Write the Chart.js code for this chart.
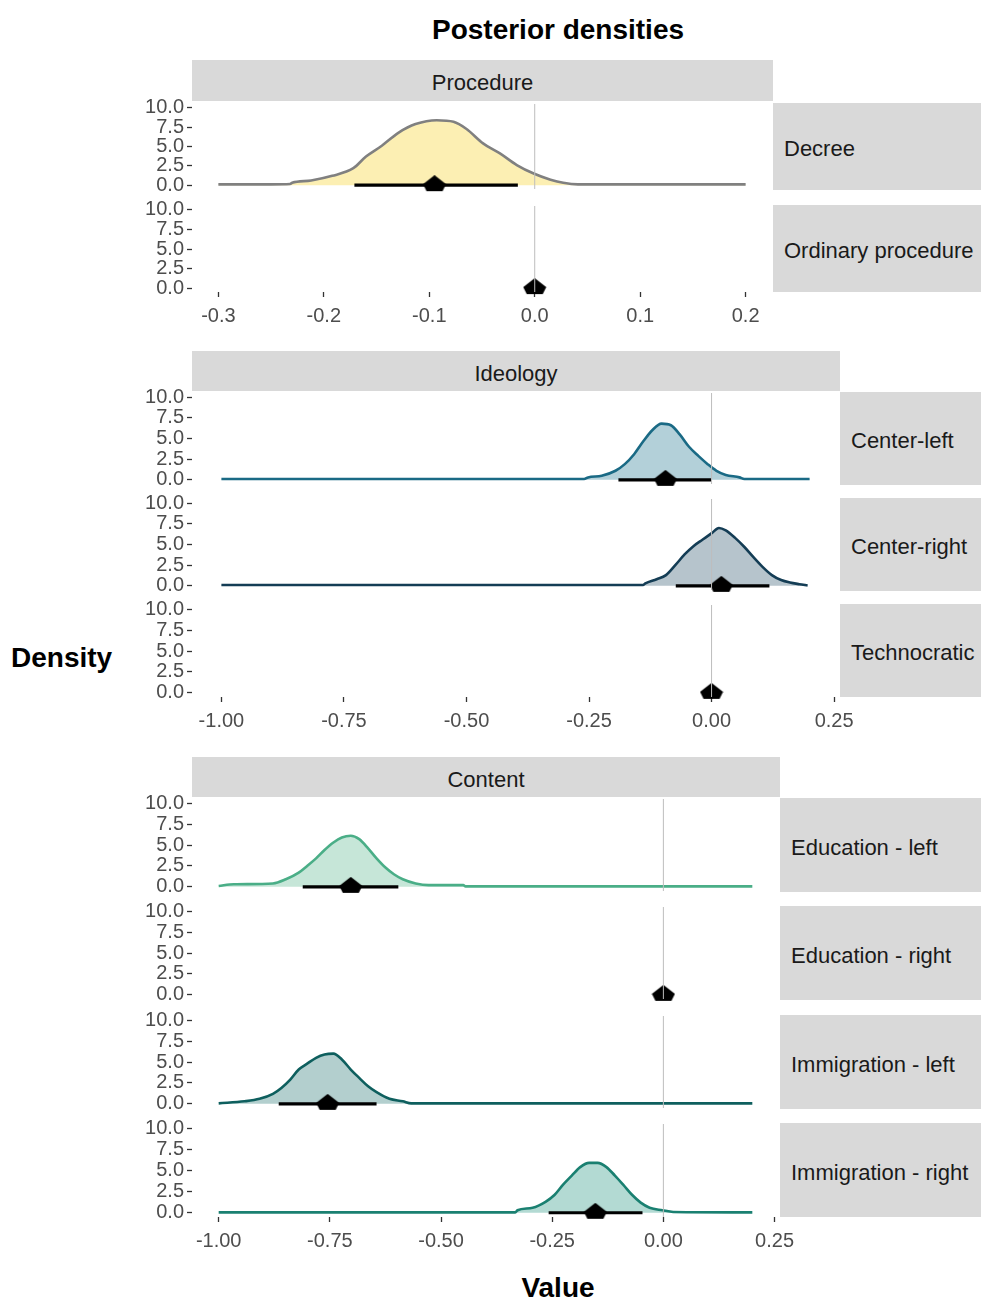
<!DOCTYPE html>
<html><head><meta charset="utf-8">
<script src="https://cdn.jsdelivr.net/npm/chart.js@4.4.1/dist/chart.umd.min.js"></script>
<style>
html,body{margin:0;padding:0;background:#fff;}
#page{position:relative;width:981px;height:1300px;overflow:hidden;font-family:"Liberation Sans",Arial,sans-serif;}
.txt{position:absolute;white-space:nowrap;color:#000;font-weight:bold;font-size:28px;line-height:32px;}
.strip{position:absolute;background:#D9D9D9;color:#1A1A1A;font-size:22px;display:flex;align-items:center;box-sizing:border-box;white-space:nowrap;padding-top:5px;}
.cw{position:absolute;}
</style></head><body><div id="page"></div>
<script>
// ---------------- DATA ----------------
const groupNames = ["Procedure", "Ideology", "Content"];
const procedureLabels = ["Decree", "Ordinary procedure"];
const ideologyLabels = ["Center-left", "Center-right", "Technocratic"];
const contentLabels = ["Education - left", "Education - right", "Immigration - left", "Immigration - right"];

const procTicks = [-0.3, -0.2, -0.1, 0.0, 0.1, 0.2];
const procTickLabels = ["-0.3", "-0.2", "-0.1", "0.0", "0.1", "0.2"];
const wideTicks = [-1.0, -0.75, -0.5, -0.25, 0.0, 0.25];
const wideTickLabels = ["-1.00", "-0.75", "-0.50", "-0.25", "0.00", "0.25"];
const densityTicks = [0, 2.5, 5, 7.5, 10];
const densityTickLabels = ["0.0", "2.5", "5.0", "7.5", "10.0"];
const procRange = [-0.3, 0.2];
const wideRange = [-1.0, 0.2];
const densityRange = [0, 10];
const refLineX = 0;

// density curves (value, density)
const decreeX = [-0.30, -0.25, -0.232, -0.23, -0.212, -0.192, -0.172, -0.160, -0.145, -0.129, -0.113, -0.093, -0.077, -0.065, -0.049, -0.033, -0.017, -0.001, 0.015, 0.027, 0.041, 0.10, 0.20];
const decreeY = [0.1, 0.1, 0.15, 0.3, 0.6, 1.2, 2.2, 3.7, 5.1, 6.8, 7.9, 8.4, 8.2, 7.3, 5.4, 4.1, 2.6, 1.5, 0.7, 0.3, 0.1, 0.1, 0.1];

const centerLeftX = [-1.00, -0.50, -0.26, -0.252, -0.224, -0.196, -0.177, -0.158, -0.140, -0.121, -0.102, -0.083, -0.065, -0.046, -0.027, -0.008, 0.010, 0.029, 0.057, 0.067, 0.20];
const centerLeftY = [0.1, 0.1, 0.1, 0.3, 0.5, 1.1, 1.9, 3.1, 4.6, 6.0, 6.8, 6.6, 5.5, 4.0, 2.9, 1.9, 1.1, 0.6, 0.3, 0.1, 0.1];

const centerRightX = [-1.00, -0.50, -0.14, -0.135, -0.112, -0.093, -0.074, -0.055, -0.037, -0.018, 0.001, 0.015, 0.029, 0.048, 0.067, 0.085, 0.104, 0.123, 0.142, 0.160, 0.179, 0.196];
const centerRightY = [0.1, 0.1, 0.1, 0.3, 0.8, 1.3, 2.5, 3.8, 4.8, 5.6, 6.4, 7.0, 6.7, 5.8, 4.7, 3.5, 2.3, 1.3, 0.7, 0.4, 0.2, 0.05];

const eduLeftX = [-1.00, -0.966, -0.878, -0.849, -0.820, -0.801, -0.781, -0.762, -0.742, -0.723, -0.703, -0.684, -0.664, -0.645, -0.625, -0.606, -0.586, -0.557, -0.528, -0.450, -0.445, 0.20];
const eduLeftY = [0.1, 0.3, 0.4, 0.9, 1.7, 2.5, 3.4, 4.4, 5.3, 5.9, 6.1, 5.7, 4.6, 3.4, 2.3, 1.5, 0.9, 0.4, 0.2, 0.2, 0.05, 0.05];

const immLeftX = [-1.00, -0.942, -0.908, -0.878, -0.859, -0.839, -0.820, -0.801, -0.781, -0.762, -0.742, -0.723, -0.703, -0.684, -0.664, -0.645, -0.616, -0.586, -0.567, 0.20];
const immLeftY = [0.05, 0.3, 0.6, 1.2, 1.9, 2.9, 4.1, 4.8, 5.5, 5.9, 6.0, 5.3, 4.1, 3.1, 2.1, 1.4, 0.6, 0.3, 0.05, 0.05];

const immRightX = [-1.00, -0.333, -0.328, -0.294, -0.265, -0.245, -0.226, -0.206, -0.187, -0.167, -0.148, -0.128, -0.109, -0.090, -0.070, -0.051, -0.031, -0.002, 0.022, 0.20];
const immRightY = [0.05, 0.05, 0.3, 0.6, 1.3, 2.1, 3.3, 4.4, 5.4, 5.9, 5.9, 5.4, 4.4, 3.3, 2.1, 1.2, 0.6, 0.3, 0.1, 0.05];

// credible intervals and medians
const procLow = [-0.171, 0.0], procHigh = [-0.016, 0.0], procMedian = [-0.095, 0.0];
const ideoLow = [-0.190, -0.073, 0.0], ideoHigh = [0.000, 0.118, 0.0], ideoMedian = [-0.094, 0.020, 0.0];
const contLow = [-0.811, 0.0, -0.865, -0.258], contHigh = [-0.596, 0.0, -0.645, -0.047], contMedian = [-0.703, 0.0, -0.755, -0.153];

// ---------------- STYLE / LAYOUT ----------------
const FONT = '"Liberation Sans", Arial, sans-serif';
const styles = {
  Decree: {line: '#808080', fill: '#FCEFB3'},
  'Center-left': {line: '#1A6A85', fill: '#B3D0D9'},
  'Center-right': {line: '#143D55', fill: '#B6C4CC'},
  'Education - left': {line: '#4AAE87', fill: '#C6E6D8'},
  'Immigration - left': {line: '#0E5F5E', fill: '#B3CFCE'},
  'Immigration - right': {line: '#1A8071', fill: '#B3DAD3'}
};
const curves = {
  Decree: [decreeX, decreeY],
  'Center-left': [centerLeftX, centerLeftY],
  'Center-right': [centerRightX, centerRightY],
  'Education - left': [eduLeftX, eduLeftY],
  'Immigration - left': [immLeftX, immLeftY],
  'Immigration - right': [immRightX, immRightY]
};
const groups = [
  {name: groupNames[0], labels: procedureLabels, low: procLow, high: procHigh, med: procMedian,
   ticks: procTicks, tickLabels: procTickLabels, range: procRange,
   left: 192, right: 772, stripTop: 60, stripBottom: 101, panels: [{top: 103, h: 87}, {top: 205, h: 87}]},
  {name: groupNames[1], labels: ideologyLabels, low: ideoLow, high: ideoHigh, med: ideoMedian,
   ticks: wideTicks, tickLabels: wideTickLabels, range: wideRange,
   left: 192, right: 839, stripTop: 351, stripBottom: 391, panels: [{top: 392, h: 93}, {top: 498, h: 93}, {top: 604, h: 93}]},
  {name: groupNames[2], labels: contentLabels, low: contLow, high: contHigh, med: contMedian,
   ticks: wideTicks, tickLabels: wideTickLabels, range: wideRange,
   left: 192, right: 779, stripTop: 757, stripBottom: 797, panels: [{top: 798, h: 94}, {top: 906, h: 94}, {top: 1015, h: 94}, {top: 1123, h: 94}]}
];

const page = document.getElementById('page');
function addText(cls, text, css) {
  const d = document.createElement('div');
  d.className = cls; d.textContent = text;
  Object.assign(d.style, css);
  page.appendChild(d);
  return d;
}
addText('txt', 'Posterior densities', {left: '0px', width: '1116px', textAlign: 'center', top: '14px'});
addText('txt', 'Density', {left: '11px', top: '642px'});
addText('txt', 'Value', {left: '0px', width: '1116px', textAlign: 'center', top: '1272px'});

// marker (median)
const marker = document.createElement('canvas');
marker.width = 24; marker.height = 20;
(function () {
  const c = marker.getContext('2d');
  c.fillStyle = '#000';
  c.beginPath();
  c.moveTo(12, 0); c.lineTo(23.5, 9); c.lineTo(20, 16); c.lineTo(4, 16); c.lineTo(0.5, 9);
  c.closePath(); c.fill();
})();

const YW = 72, PT = 14, PR = 40, PB = 14, XH = 44;
const yPad = 0.05 * (densityRange[1] - densityRange[0]);
const yMin = densityRange[0] - yPad, yMax = densityRange[1] + yPad;

groups.forEach(g => {
  const xPad = 0.05 * (g.range[1] - g.range[0]);
  const xMin = g.range[0] - xPad, xMax = g.range[1] + xPad;
  addText('strip', g.name, {left: g.left + 'px', top: g.stripTop + 'px',
    width: (g.right - g.left + 1) + 'px', height: (g.stripBottom - g.stripTop) + 'px', justifyContent: 'center'});
  g.panels.forEach((p, pi) => {
    const label = g.labels[pi];
    addText('strip', label, {left: (g.right + 1) + 'px', top: p.top + 'px', width: (981 - g.right - 1) + 'px',
      height: p.h + 'px', paddingLeft: '11px'});
    const showX = pi === g.panels.length - 1;
    const w = (g.right - g.left) + YW + PR;
    const h = p.h + PT + (showX ? XH : PB);
    const wrap = document.createElement('div');
    wrap.className = 'cw';
    wrap.style.left = (g.left - YW) + 'px';
    wrap.style.top = (p.top - PT) + 'px';
    wrap.style.width = w + 'px'; wrap.style.height = h + 'px';
    const cv = document.createElement('canvas');
    cv.width = w; cv.height = h; cv.style.width = w + 'px'; cv.style.height = h + 'px';
    wrap.appendChild(cv); page.appendChild(wrap);

    const datasets = [];
    datasets.push({type: 'line', label: 'zero', data: [{x: refLineX, y: yMin}, {x: refLineX, y: yMax}],
      borderColor: '#BDBDBD', borderWidth: 1, pointRadius: 0, order: 0, clip: false});
    datasets.push({type: 'line', label: 'median', showLine: false, data: [{x: g.med[pi], y: 0}],
      pointStyle: marker, pointRadius: 10, order: 1, clip: false});
    if (g.low[pi] !== g.high[pi]) {
      datasets.push({type: 'line', label: 'interval', data: [{x: g.low[pi], y: 0}, {x: g.high[pi], y: 0}],
        borderColor: '#000', borderWidth: 3.2, pointRadius: 0, order: 2, clip: false});
    }
    if (curves[label]) {
      const [xs, ys] = curves[label];
      datasets.push({type: 'line', label: label, data: xs.map((x, i) => ({x: x, y: ys[i]})),
        borderColor: styles[label].line, backgroundColor: styles[label].fill, fill: 'origin',
        borderWidth: 2.6, pointRadius: 0, cubicInterpolationMode: 'monotone', order: 3});
    }
    const tickFont = {family: FONT, size: 20};
    new Chart(cv, {
      type: 'line',
      data: {datasets: datasets},
      options: {
        responsive: false, animation: false, events: [],
        layout: {padding: {left: 0, top: PT, right: PR, bottom: showX ? 0 : PB}},
        plugins: {legend: {display: false}, tooltip: {enabled: false}, title: {display: false}},
        scales: {
          x: {type: 'linear', min: xMin, max: xMax, display: showX,
            afterBuildTicks: s => { s.ticks = g.ticks.map(v => ({value: v})); },
            afterFit: s => { s.height = showX ? XH : 0; },
            ticks: {display: showX, autoSkip: false, maxRotation: 0, minRotation: 0, padding: 7, font: tickFont, color: '#4D4D4D',
              callback: (v, i) => g.tickLabels[i]},
            grid: {drawOnChartArea: false, drawTicks: true, tickLength: 5, tickColor: '#333333', tickWidth: 1.3},
            border: {display: false}},
          y: {type: 'linear', min: yMin, max: yMax,
            afterBuildTicks: s => { s.ticks = densityTicks.map(v => ({value: v})); },
            afterFit: s => { s.width = YW; },
            ticks: {autoSkip: false, padding: 3, font: tickFont, color: '#4D4D4D',
              callback: (v, i) => densityTickLabels[i]},
            grid: {drawOnChartArea: false, drawTicks: true, tickLength: 5, tickColor: '#333333', tickWidth: 1.3},
            border: {display: false}}
        }
      }
    });
  });
});
</script>
</body></html>
